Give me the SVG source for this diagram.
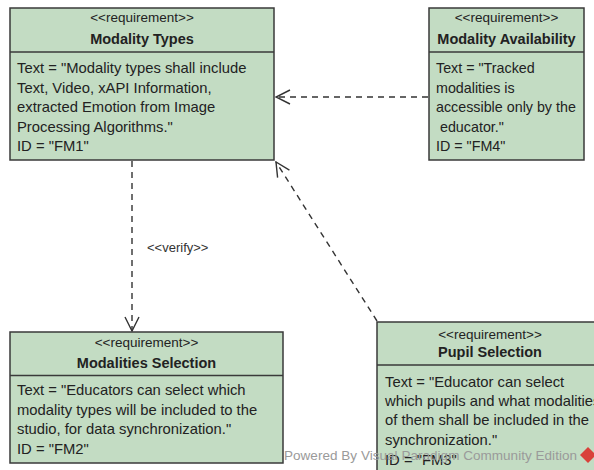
<svg xmlns="http://www.w3.org/2000/svg" width="594" height="470" viewBox="0 0 594 470">
<style>
.box{fill:#c3dcc3;stroke:#3a3a3a;stroke-width:1.5}
.div{stroke:#3a3a3a;stroke-width:1.5}
.st{font-family:"Liberation Sans",Arial,sans-serif;font-size:13.5px;fill:#222;text-anchor:middle}
.ti{font-family:"Liberation Sans",Arial,sans-serif;font-size:14.5px;font-weight:bold;fill:#222;text-anchor:middle}
.bd{font-family:"Liberation Sans",Arial,sans-serif;font-size:14.8px;fill:#222}
.bs{font-family:"Liberation Sans",Arial,sans-serif;font-size:14.3px;fill:#222}
.con{fill:none;stroke:#333;stroke-width:1.4;stroke-dasharray:6,5}
.lbl{font-family:"Liberation Sans",Arial,sans-serif;font-size:13px;fill:#333}
.wm{font-family:"Liberation Sans",Arial,sans-serif;font-size:13.5px;fill:#9a9a9a}
</style>
<defs>
<marker id="open" markerUnits="userSpaceOnUse" viewBox="0 0 16 16" refX="15" refY="8" markerWidth="16" markerHeight="16" orient="auto">
<path d="M1,1 L15,8 L1,15" fill="none" stroke="#333" stroke-width="1.4"/>
</marker>
</defs>
<g id="connectors">
<line class="con" x1="132" y1="161" x2="132" y2="331" marker-end="url(#open)"/>
<text class="lbl" x="147" y="252">&lt;&lt;verify&gt;&gt;</text>
<line class="con" x1="428" y1="97" x2="276" y2="97" marker-end="url(#open)"/>
<line class="con" x1="377" y1="321" x2="276" y2="162" marker-end="url(#open)"/>
</g>
<g id="modality-types">
<rect class="box" x="10" y="8" width="264" height="152"/>
<line class="div" x1="10" y1="52" x2="274" y2="52"/>
<text class="st" x="142" y="22">&lt;&lt;requirement&gt;&gt;</text>
<text class="ti" x="142" y="44">Modality Types</text>
<text class="bd" x="17" y="73">Text = "Modality types shall include</text>
<text class="bd" x="17" y="92.5">Text, Video, xAPI Information,</text>
<text class="bd" x="17" y="112">extracted Emotion from Image</text>
<text class="bd" x="17" y="131.5">Processing Algorithms."</text>
<text class="bd" x="17" y="151">ID = "FM1"</text>
</g>
<g id="modality-availability">
<rect class="box" x="429" y="8" width="155" height="152"/>
<line class="div" x1="429" y1="52" x2="584" y2="52"/>
<text class="st" x="506.5" y="22">&lt;&lt;requirement&gt;&gt;</text>
<text class="ti" x="506.5" y="44">Modality Availability</text>
<text class="bs" x="436" y="73">Text = "Tracked</text>
<text class="bs" x="436" y="92.5">modalities is</text>
<text class="bs" x="436" y="112">accessible only by the</text>
<text class="bs" x="436" y="131.5" xml:space="preserve"> educator."</text>
<text class="bs" x="436" y="151">ID = "FM4"</text>
</g>
<g id="modalities-selection">
<rect class="box" x="10" y="332" width="273" height="131"/>
<line class="div" x1="10" y1="375.5" x2="283" y2="375.5"/>
<text class="st" x="146.5" y="347">&lt;&lt;requirement&gt;&gt;</text>
<text class="ti" x="146.5" y="368">Modalities Selection</text>
<text class="bd" x="17" y="395">Text = "Educators can select which</text>
<text class="bd" x="17" y="414.5">modality types will be included to the</text>
<text class="bd" x="17" y="434">studio, for data synchronization."</text>
<text class="bd" x="17" y="453.5">ID = "FM2"</text>
</g>
<g id="pupil-selection">
<rect class="box" x="377" y="322" width="226" height="160"/>
<line class="div" x1="377" y1="365" x2="603" y2="365"/>
<text class="st" x="490" y="339">&lt;&lt;requirement&gt;&gt;</text>
<text class="ti" x="490" y="357">Pupil Selection</text>
<text class="bd" x="385" y="386.5">Text = "Educator can select</text>
<text class="bd" x="385" y="406">which pupils and what modalities</text>
<text class="bd" x="385" y="425">of them shall be included in the</text>
<text class="bd" x="385" y="445">synchronization."</text>
<text class="bd" x="385" y="464.5">ID = "FM3"</text>
</g>
<g id="watermark">
<text class="wm" x="284" y="460" textLength="293" lengthAdjust="spacing">Powered By Visual Paradigm Community Edition</text>
<path d="M588,447 L596,455 L588,463 L580,455 Z" fill="#d9413a"/>
</g>
</svg>
